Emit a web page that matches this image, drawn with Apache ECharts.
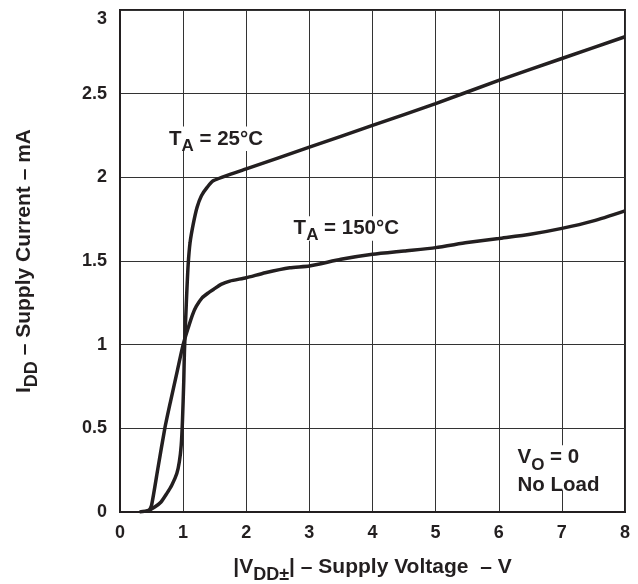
<!DOCTYPE html>
<html>
<head>
<meta charset="utf-8">
<script src="https://cdn.jsdelivr.net/npm/echarts@6/dist/echarts.min.js"></script>
<style>html,body{margin:0;padding:0;background:#fff}#c{width:638px;height:584px}</style>
</head>
<body>
<div id="c"></div>
<script>
// Supply voltage (V) and supply current (mA)
var v25  = [0.31,0.45,0.55,0.65,0.74,0.82,0.90,0.94,0.97,0.99,1.01,1.02,1.04,1.06,1.08,1.11,1.16,1.22,1.29,1.38,1.48,2,3,4,5,6,7,8];
var i25  = [0,0.01,0.03,0.06,0.11,0.16,0.23,0.30,0.40,0.55,0.78,0.95,1.15,1.33,1.48,1.61,1.72,1.82,1.89,1.94,1.98,2.05,2.18,2.31,2.44,2.58,2.71,2.84];
var v150 = [0.45,0.50,0.60,0.71,0.80,0.90,1.00,1.08,1.15,1.21,1.30,1.40,1.48,1.60,1.74,2.0,2.3,2.69,3,3.5,4,4.5,5,5.5,6,6.5,7,7.5,8];
var i150 = [0,0.04,0.26,0.50,0.66,0.83,1.00,1.10,1.18,1.23,1.28,1.31,1.33,1.36,1.38,1.40,1.43,1.46,1.47,1.51,1.54,1.56,1.58,1.61,1.635,1.66,1.695,1.74,1.80];
var xTicks = [0,1,2,3,4,5,6,7,8];
var yTicks = [0,0.5,1,1.5,2,2.5,3];

function pairs(xs, ys){ return xs.map(function(x,i){ return [x, ys[i]]; }); }

var FONT = 'Liberation Sans';
var INK = '#231f20';
function mkRich(size, subSize, align){
  var r = {
    n: {fontFamily: FONT, fontWeight: 'bold', fontSize: size, color: INK, lineHeight: size, verticalAlign: 'top'},
    s: {fontFamily: FONT, fontWeight: 'bold', fontSize: subSize, color: INK, lineHeight: subSize, verticalAlign: 'top', padding: [Math.round(size*0.42),0,0,0]},
    m: {fontFamily: FONT, fontWeight: 'bold', fontSize: size, color: INK, lineHeight: size, verticalAlign: 'top', padding: [7,0,0,0]}
  };
  if (align) { r.n.align = align; r.s.align = align; r.m.align = align; }
  return r;
}
function lbl(coord, text, align){
  return {coord: coord, symbolSize: 0,
    label: {show: true, position: 'inside', formatter: text, backgroundColor: '#fff', padding: [2,3,2,3], rich: mkRich(20.5, 17, align)}};
}

var chart = echarts.init(document.getElementById('c'));
chart.setOption({
  animation: false,
  backgroundColor: '#fff',
  grid: {left: 120, right: 13, top: 10, bottom: 72, show: true, borderColor: INK, borderWidth: 2,
         containLabel: false, outerBoundsMode: 'none'},
  xAxis: {
    type: 'value', min: 0, max: 8, interval: 1,
    axisLine: {show: true, lineStyle: {color: INK, width: 2}},
    axisTick: {show: false},
    splitLine: {show: true, lineStyle: {color: '#333', width: 1}},
    axisLabel: {margin: 12, fontFamily: FONT, fontWeight: 'bold', fontSize: 18, color: INK,
      formatter: function(v){ return xTicks.indexOf(v) >= 0 ? String(v) : ''; }},
    name: '{n||V}{s|DD\u00b1}{n|| \u2013 Supply Voltage  \u2013 V}',
    nameLocation: 'middle', nameGap: 45,
    nameTextStyle: {rich: mkRich(21, 18)}
  },
  yAxis: {
    type: 'value', min: 0, max: 3, interval: 0.5,
    axisLine: {show: true, lineStyle: {color: INK, width: 2}},
    axisTick: {show: false},
    splitLine: {show: true, lineStyle: {color: '#333', width: 1}},
    axisLabel: {margin: 13, fontFamily: FONT, fontWeight: 'bold', fontSize: 18, color: INK,
      verticalAlignMaxLabel: 'top',
      formatter: function(v){ return yTicks.indexOf(v) >= 0 ? String(v) : ''; }},
    name: '{n|I}{s|DD}{n| \u2013 Supply Current \u2013 mA}',
    nameLocation: 'middle', nameGap: 85, nameRotate: 90,
    nameTextStyle: {rich: mkRich(21, 18)}
  },
  series: [
    {type: 'line', name: '25', data: pairs(v25, i25), showSymbol: false, smooth: 0.2,
     lineStyle: {color: INK, width: 3.5}, z: 3,
     markPoint: {symbolSize: 0, data: [lbl([1.52, 2.23], '{n|T}{s|A}{n| = 25\u00b0C}')]}},
    {type: 'line', name: '150', data: pairs(v150, i150), showSymbol: false, smooth: 0.2,
     lineStyle: {color: INK, width: 3.5}, z: 3,
     markPoint: {symbolSize: 0, data: [
       lbl([3.585, 1.694], '{n|T}{s|A}{n| = 150\u00b0C}'),
       lbl([6.946, 0.264], '{n|V}{s|O}{n| = 0}\n{m|No Load}', 'left')
     ]}}
  ]
});
</script>
</body>
</html>
